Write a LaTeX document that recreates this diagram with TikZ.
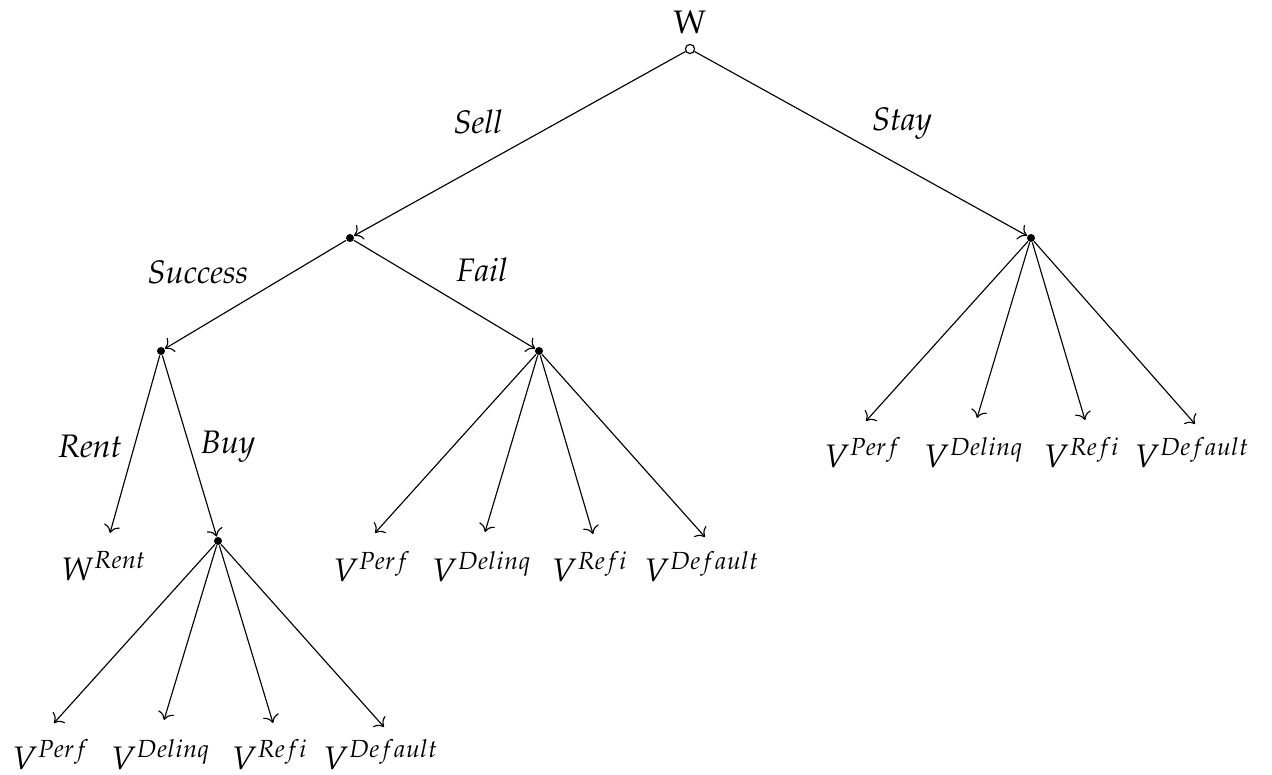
\documentclass[tikz,border=0pt]{standalone}
\usepackage[T1]{fontenc}
\usepackage{mathpazo}
\usetikzlibrary{positioning,arrows.meta}

\begin{document}
\begin{tikzpicture}[x=0.35pt,y=-0.35pt,font=\fontsize{11.4}{14}\selectfont,
  dec/.style={circle,fill=black,inner sep=0pt,minimum size=2.8pt},
  start/.style={circle,draw,fill=white,inner sep=0pt,minimum size=3.2pt},
  leaf/.style={inner sep=0pt,anchor=base},
  act/.style={font=\fontsize{11.4}{14}\selectfont\itshape},
  edge/.style={-{Computer Modern Rightarrow[scale=1.1]}}]
\useasboundingbox (0,0) rectangle (1272,774);
% decision points
\node[start] (root) at (690,49) {};
\node (top) at (690,22) {W};
\node[dec] (sell) at (350,238) {};
\node[dec] (stay) at (1031,238) {};
\node[dec] (succ) at (161,351) {};
\node[dec] (fail) at (539,351) {};
\node[dec] (buy) at (218,541) {};
% arrow ends and outcomes
\coordinate (rent) at (110,533);
\node[leaf] (rentl) at (104,580) {$W^{Rent}$};
\foreach \n/\x/\y/\b/\t in {f1/375/533/581/Perf, f2/485/532/581/Delinq, f3/593/534/581/Refi, f4/705/537/581/Default,
  s1/866/421/467/Perf, s2/977/418/467/Delinq, s3/1085/420/467/Refi, s4/1195/424/467/Default,
  b1/54/723/769/Perf, b2/164/720/769/Delinq, b3/273/723/769/Refi, b4/384/727/769/Default} {
  \coordinate (\n) at (\x,\y);
  \node[leaf] (\n l) at (\x-3,\b) {$V^{\t}$};
}
% branches
\foreach \a/\b in {root/sell, root/stay, sell/succ, sell/fail, succ/rent, succ/buy}
  \draw[edge] (\a) -- (\b);
\foreach \i in {1,...,4} {
  \draw[edge] (fail) -- (f\i);
  \draw[edge] (stay) -- (s\i);
  \draw[edge] (buy) -- (b\i);
}
% actions
\node[act] (lsell) at (478,122) {Sell};
\node[act] (lstay) at (902,124) {Stay};
\node[act] (lsucc) at (198,272) {Success};
\node[act] (lfail) at (482,270) {Fail};
\node[act] (lrent) at (90,446) {Rent};
\node[act] (lbuy) at (228,447) {Buy};
\end{tikzpicture}
\end{document}
